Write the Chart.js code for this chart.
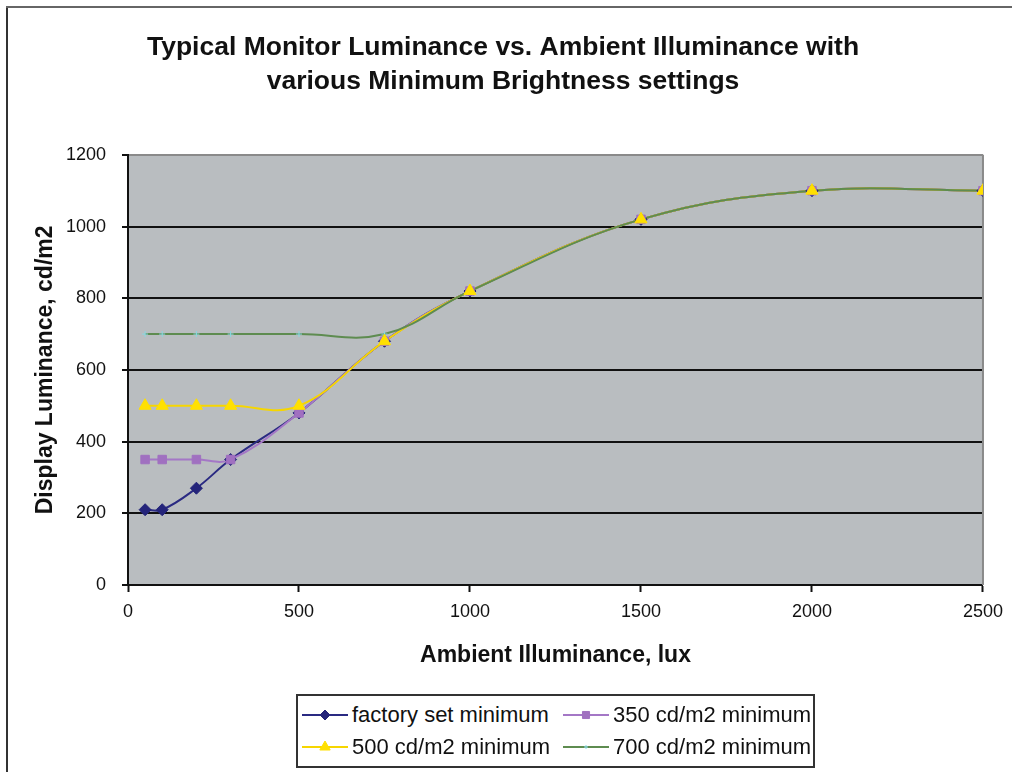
<!DOCTYPE html>
<html>
<head>
<meta charset="utf-8">
<script src="https://cdn.jsdelivr.net/npm/chart.js@4.4.0/dist/chart.umd.min.js"></script>
<style>
  body { margin: 0; background: #fff; }
  #wrap { position: relative; width: 1012px; height: 772px; }
  #legend {
    position: absolute; left: 296px; top: 694px; width: 515px; height: 70px;
    border: 2px solid #333; background: #fff;
    display: grid; grid-template-columns: 261px 254px; grid-auto-rows: 32px;
    align-content: center;
    font-family: 'Liberation Sans', Arial, sans-serif;
    font-size: 22px; color: #111;
  }
  #legend .item { display: flex; align-items: center; white-space: nowrap; }
  #legend canvas { margin: 0 4px 0 4px; }
</style>
</head>
<body>
<div id="wrap">
  <canvas id="chart" width="1012" height="772"></canvas>
  <div id="legend"></div>
</div>
<script>
const FONT = "'Liberation Sans', Arial, sans-serif";

const lux = [50, 100, 200, 300, 500, 750, 1000, 1500, 2000, 2500];
const factoryMin = [210, 210, 270, 350, 480, 680, 820, 1020, 1100, 1100];
const min350 = [350, 350, 350, 350, 480, 680, 820, 1020, 1100, 1100];
const min500 = [500, 500, 500, 500, 500, 680, 820, 1020, 1100, 1100];
const min700 = [700, 700, 700, 700, 700, 700, 820, 1020, 1100, 1100];

const seriesNames = ['factory set minimum', '350 cd/m2 minimum', '500 cd/m2 minimum', '700 cd/m2 minimum'];
const titleLines = ['Typical Monitor Luminance vs. Ambient Illuminance with', 'various Minimum Brightness settings'];
const xTicks = [0, 500, 1000, 1500, 2000, 2500];
const yTicks = [0, 200, 400, 600, 800, 1000, 1200];

const toPoints = (vals) => vals.map((v, i) => ({ x: lux[i], y: v }));

// lineOrder / markerOrder: lower = drawn on top (Excel draws all lines, then all markers)
const styles = [
  { line: '#2a2a82', fill: '#24247a', point: 'rectRot', radius: 6, bw: 1, lineOrder: 13, markerOrder: 2 },
  { line: '#a477c6', fill: '#a070c0', point: 'rect', radius: 6, bw: 1, lineOrder: 12, markerOrder: 1 },
  { line: '#f6d600', fill: '#ffe000', point: 'triangle', radius: 7, bw: 1, lineOrder: 11, markerOrder: 0 },
  { line: '#5e8c50', fill: '#8ad8e2', point: 'cross', radius: 3, bw: 1, lineOrder: 10, markerOrder: 3 },
];

const series = [factoryMin, min350, min500, min700];

const lineSets = series.map((vals, i) => ({
  label: seriesNames[i],
  data: toPoints(vals),
  borderColor: styles[i].line,
  borderWidth: 2,
  pointRadius: 0,
  tension: 0.4,
  order: styles[i].lineOrder,
}));

const markerSets = series.map((vals, i) => ({
  label: seriesNames[i] + ' markers',
  data: toPoints(vals),
  showLine: false,
  pointStyle: styles[i].point,
  pointRadius: styles[i].radius,
  pointBackgroundColor: styles[i].fill,
  pointBorderColor: styles[i].fill,
  pointBorderWidth: styles[i].bw,
  order: styles[i].markerOrder,
}));

const chartFrame = {
  id: 'chartFrame',
  beforeDraw(chart) {
    const { ctx, chartArea: a } = chart;
    ctx.save();
    ctx.fillStyle = '#b9bdc0';
    ctx.fillRect(a.left, a.top, a.right - a.left, a.bottom - a.top);
    ctx.lineWidth = 2;
    ctx.strokeStyle = '#333';
    ctx.beginPath();
    ctx.moveTo(7, 772);
    ctx.lineTo(7, 7);
    ctx.stroke();
    ctx.strokeStyle = '#666';
    ctx.beginPath();
    ctx.moveTo(6, 7);
    ctx.lineTo(1012, 7);
    ctx.stroke();
    ctx.restore();
  },
  beforeDatasetsDraw(chart) {
    const { ctx, chartArea: a } = chart;
    ctx.save();
    ctx.strokeStyle = '#8a8a8a';
    ctx.lineWidth = 2;
    ctx.beginPath();
    ctx.moveTo(a.right, a.top);
    ctx.lineTo(a.right, a.bottom);
    ctx.stroke();
    ctx.restore();
  }
};

const chart = new Chart(document.getElementById('chart'), {
  type: 'line',
  data: { datasets: [...lineSets, ...markerSets] },
  plugins: [chartFrame],
  options: {
    responsive: false,
    animation: false,
    devicePixelRatio: 1,
    layout: { padding: { left: 18, right: 24, top: 0, bottom: 103 } },
    plugins: {
      legend: { display: false },
      tooltip: { enabled: false },
      title: {
        display: true,
        text: titleLines,
        color: '#111',
        font: { family: FONT, size: 26.5, weight: 'bold', lineHeight: 1.28 },
        padding: { top: 31, bottom: 56 },
      },
    },
    scales: {
      x: {
        type: 'linear',
        min: 0,
        max: 2500,
        afterFit: (s) => { s.height = 84; },
        afterBuildTicks: (s) => { s.ticks = xTicks.map(v => ({ value: v })); },
        ticks: { color: '#111', font: { family: FONT, size: 18 }, padding: 9, callback: (v) => String(v) },
        grid: { drawOnChartArea: false, drawTicks: true, tickLength: 7, tickColor: '#111', tickWidth: 2 },
        border: { color: '#111', width: 2 },
        title: {
          display: true,
          text: 'Ambient Illuminance, lux',
          color: '#111',
          font: { family: FONT, size: 23, weight: 'bold', lineHeight: 1.2 },
          padding: { top: 0, bottom: 0 },
        },
      },
      y: {
        min: 0,
        max: 1200,
        afterFit: (s) => { s.width = 110; },
        afterBuildTicks: (s) => { s.ticks = yTicks.map(v => ({ value: v })); },
        ticks: { color: '#111', font: { family: FONT, size: 18 }, padding: 16, callback: (v) => String(v) },
        grid: {
          color: (c) => (c.tick && c.tick.value === 1200 ? '#8a8a8a' : '#111'),
          lineWidth: 2,
          tickLength: 6,
          tickColor: '#111',
          tickWidth: 2,
        },
        border: { color: '#111', width: 2 },
        title: {
          display: true,
          text: 'Display Luminance, cd/m2',
          color: '#111',
          font: { family: FONT, size: 23, weight: 'bold', lineHeight: 1.2 },
          padding: { top: 14, bottom: 0 },
        },
      },
    },
  },
});

// Excel-style legend: line with marker in the middle
const legendEl = document.getElementById('legend');
lineSets.forEach((ds, i) => {
  const st = styles[i];
  const item = document.createElement('div');
  item.className = 'item';
  const icon = document.createElement('canvas');
  icon.width = 46;
  icon.height = 16;
  const c = icon.getContext('2d');
  c.strokeStyle = st.line;
  c.lineWidth = 2;
  c.beginPath();
  c.moveTo(0, 8);
  c.lineTo(46, 8);
  c.stroke();
  c.fillStyle = st.fill;
  c.strokeStyle = st.fill;
  c.lineWidth = st.bw;
  Chart.helpers.drawPoint(c, { pointStyle: st.point, radius: st.radius - 1, borderWidth: st.bw }, 23, 8);
  const text = document.createElement('span');
  text.textContent = ds.label;
  item.appendChild(icon);
  item.appendChild(text);
  legendEl.appendChild(item);
});
</script>
</body>
</html>
